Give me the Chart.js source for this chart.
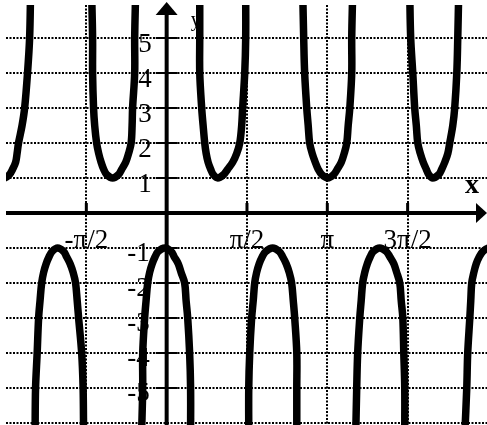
<!DOCTYPE html>
<html><head><meta charset="utf-8">
<script src="https://cdn.jsdelivr.net/npm/chart.js@4.4.0/dist/chart.umd.min.js"></script>
<style>html,body{margin:0;padding:0;background:#fff;} canvas{display:block;}</style>
</head><body>
<canvas id="c" width="487" height="425"></canvas>
<script>
// x values are in units of π
const xTickValues = [-0.5, 0.5, 1, 1.5];
const xTickLabels = ["-π/2", "π/2", "π", "3π/2"];
const yTickValues = [-5, -4, -3, -2, -1, 1, 2, 3, 4, 5];
const yTickLabels = ["-5", "-4", "-3", "-2", "-1", "1", "2", "3", "4", "5"];
const yGridValues = [-6, -5, -4, -3, -2, -1, 1, 2, 3, 4, 5];
const xAxisName = "x";
const yAxisName = "y";

// upward branches
const up1X = [-1.065, -1.046, -1.009, -0.978, -0.959, -0.940, -0.931, -0.922, -0.900, -0.884, -0.866, -0.853, -0.847];
const up1Y = [1.25, 1.1, 1.0, 1.1, 1.25, 1.45, 1.7, 2, 2.5, 3, 4, 5, 6.3];
const up2X = [-0.467, -0.461, -0.461, -0.455, -0.448, -0.436, -0.423, -0.408, -0.392, -0.374, -0.336, -0.299, -0.280, -0.255, -0.237, -0.221, -0.215, -0.212, -0.199, -0.199, -0.193];
const up2Y = [6.3, 5, 4, 3, 2.5, 2, 1.7, 1.45, 1.25, 1.1, 1.0, 1.1, 1.25, 1.45, 1.7, 2, 2.5, 3, 4, 5, 6.3];
const up3X = [0.206, 0.206, 0.206, 0.218, 0.227, 0.237, 0.246, 0.258, 0.274, 0.290, 0.318, 0.355, 0.380, 0.411, 0.436, 0.455, 0.467, 0.473, 0.486, 0.492, 0.492];
const up3Y = [6.3, 5, 4, 3, 2.5, 2, 1.7, 1.45, 1.25, 1.1, 1.0, 1.1, 1.25, 1.45, 1.7, 2, 2.5, 3, 4, 5, 6.3];
const up4X = [0.847, 0.853, 0.859, 0.872, 0.881, 0.890, 0.906, 0.925, 0.943, 0.965, 1.003, 1.040, 1.062, 1.087, 1.105, 1.121, 1.130, 1.140, 1.152, 1.152, 1.158];
const up4Y = [6.3, 5, 4, 3, 2.5, 2, 1.7, 1.45, 1.25, 1.1, 1.0, 1.1, 1.25, 1.45, 1.7, 2, 2.5, 3, 4, 5, 6.3];
const up5X = [1.513, 1.519, 1.532, 1.544, 1.554, 1.563, 1.579, 1.597, 1.616, 1.631, 1.656, 1.694, 1.712, 1.731, 1.750, 1.762, 1.781, 1.793, 1.806, 1.812, 1.818];
const up5Y = [6.3, 5, 4, 3, 2.5, 2, 1.7, 1.45, 1.25, 1.1, 1.0, 1.1, 1.25, 1.45, 1.7, 2, 2.5, 3, 4, 5, 6.3];

// downward branches
const down1X = [-0.819, -0.816, -0.806, -0.797, -0.788, -0.778, -0.766, -0.750, -0.732, -0.713, -0.679, -0.641, -0.623, -0.601, -0.582, -0.567, -0.557, -0.548, -0.529, -0.520, -0.517];
const down1Y = [-6.3, -5, -4, -3, -2.5, -2, -1.7, -1.45, -1.25, -1.1, -1.0, -1.1, -1.25, -1.45, -1.7, -2, -2.5, -3, -4, -5, -6.3];
const down2X = [-0.156, -0.149, -0.149, -0.137, -0.128, -0.118, -0.106, -0.090, -0.072, -0.053, -0.012, 0.028, 0.047, 0.072, 0.090, 0.112, 0.121, 0.131, 0.143, 0.149, 0.149];
const down2Y = [-6.3, -5, -4, -3, -2.5, -2, -1.7, -1.45, -1.25, -1.1, -1.0, -1.1, -1.25, -1.45, -1.7, -2, -2.5, -3, -4, -5, -6.3];
const down3X = [0.511, 0.511, 0.517, 0.529, 0.539, 0.548, 0.560, 0.576, 0.595, 0.616, 0.660, 0.701, 0.722, 0.744, 0.763, 0.778, 0.788, 0.797, 0.810, 0.810, 0.810];
const down3Y = [-6.3, -5, -4, -3, -2.5, -2, -1.7, -1.45, -1.25, -1.1, -1.0, -1.1, -1.25, -1.45, -1.7, -2, -2.5, -3, -4, -5, -6.3];
const down4X = [1.177, 1.183, 1.189, 1.202, 1.211, 1.220, 1.233, 1.249, 1.267, 1.286, 1.326, 1.367, 1.389, 1.414, 1.432, 1.451, 1.460, 1.470, 1.476, 1.482, 1.482];
const down4Y = [-6.3, -5, -4, -3, -2.5, -2, -1.7, -1.45, -1.25, -1.1, -1.0, -1.1, -1.25, -1.45, -1.7, -2, -2.5, -3, -4, -5, -6.3];
const down5X = [1.856, 1.868, 1.874, 1.887, 1.893, 1.899, 1.912, 1.927, 1.946, 1.968, 2.005, 2.042];
const down5Y = [-6.3, -5, -4, -3, -2.5, -2, -1.7, -1.45, -1.25, -1.1, -1.0, -1.1];

const branches = [
  [up1X, up1Y], [up2X, up2Y], [up3X, up3Y], [up4X, up4Y], [up5X, up5Y],
  [down1X, down1Y], [down2X, down2Y], [down3X, down3Y], [down4X, down4Y], [down5X, down5Y]
];

const datasets = branches.map(([xs, ys]) => ({
  data: xs.map((v, i) => ({x: v, y: ys[i]})),
  showLine: true,
  borderColor: '#000',
  borderWidth: 7.5,
  pointRadius: 0,
  tension: 0.35,
  borderCapStyle: 'round',
  borderJoinStyle: 'round'
}));

const serif = '"Liberation Serif", "Times New Roman", serif';

const axesPlugin = {
  id: 'axesPlugin',
  beforeDatasetsDraw(chart) {
    const {ctx, chartArea, scales: {x, y}} = chart;
    const x0 = x.getPixelForValue(0);
    const y0 = y.getPixelForValue(0);
    ctx.save();
    ctx.fillStyle = '#000';
    ctx.strokeStyle = '#000';

    // x axis
    ctx.lineWidth = 4;
    ctx.beginPath();
    ctx.moveTo(chartArea.left, y0);
    ctx.lineTo(chartArea.right - 8, y0);
    ctx.stroke();
    ctx.beginPath();
    ctx.moveTo(chartArea.right, y0);
    ctx.lineTo(chartArea.right - 11, y0 - 10);
    ctx.lineTo(chartArea.right - 11, y0 + 10);
    ctx.closePath();
    ctx.fill();

    // y axis
    ctx.beginPath();
    ctx.moveTo(x0, chartArea.bottom);
    ctx.lineTo(x0, 12);
    ctx.stroke();
    ctx.beginPath();
    ctx.moveTo(x0, 2);
    ctx.lineTo(x0 - 11, 15);
    ctx.lineTo(x0 + 11, 15);
    ctx.closePath();
    ctx.fill();

    // y tick marks
    ctx.lineWidth = 2;
    yTickValues.forEach(v => {
      const py = y.getPixelForValue(v);
      ctx.beginPath();
      ctx.moveTo(x0 - 11, py);
      ctx.lineTo(x0 + 11, py);
      ctx.stroke();
    });
    // x tick marks
    ctx.lineWidth = 3;
    xTickValues.forEach(v => {
      const px = x.getPixelForValue(v);
      ctx.beginPath();
      ctx.moveTo(px, y0);
      ctx.lineTo(px, y0 - 10);
      ctx.stroke();
    });

    // y labels
    ctx.font = '27px ' + serif;
    ctx.textAlign = 'right';
    ctx.textBaseline = 'alphabetic';
    yTickValues.forEach((v, i) => {
      const py = y.getPixelForValue(v);
      ctx.fillText(yTickLabels[i], x0 - (v < 0 ? 17 : 15), py + (v < 0 ? 13 : 14));
    });
    // x labels
    ctx.textAlign = 'center';
    xTickValues.forEach((v, i) => {
      const px = x.getPixelForValue(v);
      ctx.fillText(xTickLabels[i], px, y0 + 35);
    });

    // axis names
    ctx.textAlign = 'left';
    ctx.font = '20px ' + serif;
    ctx.fillText(yAxisName, x0 + 24, 26);
    ctx.font = 'bold 28px ' + serif;
    ctx.fillText(xAxisName, 465, y0 - 20);
    ctx.restore();
  }
};

new Chart(document.getElementById('c'), {
  type: 'scatter',
  data: {datasets},
  options: {
    responsive: false,
    animation: false,
    layout: {padding: {left: 6, top: 5, right: 0, bottom: 0}, autoPadding: false},
    plugins: {legend: {display: false}, tooltip: {enabled: false}},
    scales: {
      x: {
        type: 'linear', min: -1, max: 1.994,
        afterBuildTicks: s => { s.ticks = xTickValues.map(v => ({value: v})); },
        ticks: {display: false},
        grid: {color: '#000', lineWidth: 2, drawTicks: false},
        border: {display: false, dash: [2, 1.5]}
      },
      y: {
        type: 'linear', min: -6.057, max: 5.943,
        afterBuildTicks: s => { s.ticks = yGridValues.map(v => ({value: v})); },
        ticks: {display: false},
        grid: {color: '#000', lineWidth: 2, drawTicks: false},
        border: {display: false, dash: [2, 1.5]}
      }
    }
  },
  plugins: [axesPlugin]
});
</script>
</body></html>
